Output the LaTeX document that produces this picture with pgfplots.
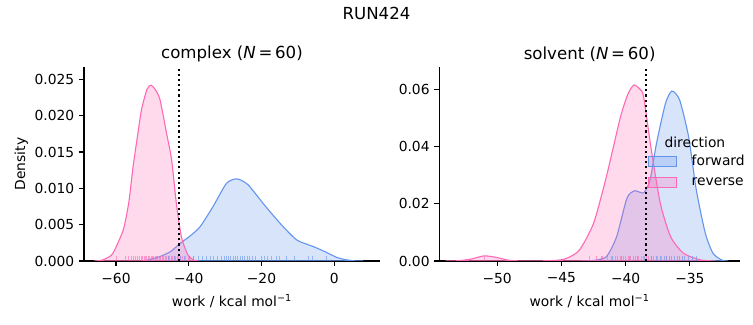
\documentclass[border=0pt]{standalone}
\usepackage{pgfplots}
\pgfplotsset{compat=1.18}
\usepackage{fontspec}
\setmainfont{DejaVu Sans}
\definecolor{fwd}{HTML}{6495ED}
\definecolor{rev}{HTML}{FF69B4}
\pgfplotsset{
  myax/.style={
    scale only axis,
    height=139.68bp,
    ymin=0,
    scaled y ticks=false, scaled x ticks=false,
    axis x line*=bottom, axis y line*=left,
    tick align=outside,
    major tick length=3.5bp,
    axis line style={line width=0.8bp, black},
    tick style={line width=0.8bp, black},
    tick label style={font=\fontsize{10}{12}\selectfont},
    xticklabel style={yshift=-1.5bp},
    label style={font=\fontsize{10}{12}\selectfont},
    xlabel style={yshift=-1.5bp},
    ylabel style={yshift=-2bp},
    title style={font=\fontsize{12}{14}\selectfont, yshift=-6bp},
    xlabel={work / kcal mol\textsuperscript{−1}},
    /pgf/number format/assume math mode=true,
  },
  kde/.style={color=#1, fill=#1, fill opacity=0.25, draw opacity=1, line width=0.8bp, smooth, tension=0.4},
  rug/.style={color=#1, ycomb, no marks, line width=0.7bp, opacity=0.6, forget plot},
  legend image code/.code={\draw[#1] (0bp,-3.6bp) rectangle (20bp,3.6bp);},
}
\begin{document}
\begin{tikzpicture}
\useasboundingbox (0,0) rectangle (542.16bp,234bp);
\node[font=\fontsize{12}{14}\selectfont] at (271.08bp,224.6bp) {RUN424};

% ---------- complex ----------
\begin{axis}[myax,
  at={(60.48bp,46.08bp)}, anchor=south west,
  width=213.12bp,
  xmin=-68.8, xmax=12.6, ymax=0.0267,
  xtick={-60,-40,-20,0}, xticklabels={−60,−40,−20,0},
  ytick={0,0.005,0.010,0.015,0.020,0.025},
  yticklabels={0.000,0.005,0.010,0.015,0.020,0.025},
  ylabel={Density},
  title={complex (\textit{N}\,=\,60)},
]
\addplot[kde=fwd] coordinates {(-53,0) (-51.6,0.0001) (-48,0.0006) (-45,0.0013) (-42.4,0.0024) (-39.5,0.0035) (-36.9,0.0047) (-33.3,0.0075) (-29.6,0.0107) (-26.7,0.0113) (-23.7,0.0105) (-19.5,0.0079) (-14.9,0.0052) (-10.3,0.0029) (-5.8,0.0020) (-2.6,0.0013) (0.7,0.0005) (3,0.0002) (5.5,0.00003) (8,0)} \closedcycle;
\addplot[kde=rev] coordinates {(-66,0) (-64,0.0001) (-62.5,0.0004) (-60.8,0.0011) (-58,0.0043) (-56.5,0.0080) (-55.3,0.0130) (-54,0.0175) (-53,0.0208) (-51.5,0.0236) (-50.4,0.0242) (-49.2,0.0236) (-47.9,0.0222) (-46.1,0.0176) (-44.7,0.0139) (-43.4,0.0079) (-42,0.0033) (-40.2,0.0008) (-38.5,0.0001) (-37,0)} \closedcycle;
\addplot[rug=rev] table[y expr=0.00067] {
x
-59.8
-57.4
-56.6
-55.8
-55.3
-54.7
-54.1
-53.6
-53.1
-52.7
-52.3
-51.9
-51.5
-51.1
-50.7
-50.3
-50.0
-49.6
-49.2
-48.9
-48.5
-48.1
-47.7
-47.3
-46.9
-46.5
-46.1
-45.7
-45.2
-44.8
-44.4
-44.0
-43.6
-43.2
-42.8
-42.3
-41.6
-40.9
-40.1
-38.8
};
\addplot[rug=fwd] table[y expr=0.00067] {
x
-45.6
-43.9
-42.4
-41.2
-39.8
-38.6
-37.4
-36.3
-35.0
-34.1
-33.2
-32.0
-31.1
-30.2
-29.6
-29.0
-28.4
-27.8
-27.1
-26.5
-25.9
-25.3
-24.6
-23.9
-23.2
-22.6
-21.7
-20.1
-19.2
-18.3
-17.2
-16.0
-15.1
-13.0
-10.8
-7.2
-6.1
-2.1
};
\addplot[black, line width=1.5bp, dash pattern=on 1.5bp off 2.2bp, forget plot] coordinates {(-42.7,0) (-42.7,0.0267)};
\end{axis}

% ---------- solvent ----------
\begin{axis}[myax,
  at={(316.3bp,46.08bp)}, anchor=south west,
  width=216.5bp,
  xmin=-54.5, xmax=-31.1, ymax=0.0677,
  xtick={-50,-45,-40,-35}, xticklabels={−50,−45,−40,−35},
  ytick={0,0.02,0.04,0.06},
  yticklabels={0.00,0.02,0.04,0.06},
  title={solvent (\textit{N}\,=\,60)},
  legend style={at={(0.68,0.575)}, anchor=north west, draw=none, fill=none,
    font=\fontsize{10}{12}\selectfont, row sep=3bp},
  legend cell align=left,
]
\addplot[kde=fwd] coordinates {(-43.5,0) (-42.5,0.0002) (-41.5,0.0015) (-40.7,0.0085) (-39.9,0.0219) (-39.3,0.0245) (-38.6,0.0238) (-38.1,0.0283) (-37.6,0.0410) (-36.9,0.0550) (-36.4,0.0593) (-35.8,0.0562) (-35.1,0.0434) (-34.5,0.0248) (-33.8,0.0097) (-33.2,0.0027) (-32.5,0.0003) (-32,0)} \closedcycle;
\addlegendentry{\hspace{8.5bp}forward}
\addplot[kde=rev] coordinates {(-54,0) (-53,0.0001) (-52,0.0007) (-51,0.0018) (-50,0.0012) (-49,0.0002) (-47.5,0) (-45.5,0.0002) (-44.6,0.0009) (-43.6,0.0038) (-42.5,0.0131) (-41.5,0.0294) (-40.4,0.0503) (-39.8,0.0585) (-39.35,0.0614) (-38.9,0.0600) (-38.6,0.0573) (-38.0,0.0387) (-37.3,0.0201) (-36.5,0.0085) (-35.5,0.0027) (-34.2,0.0004) (-33,0)} \closedcycle;
\addlegendentry{\hspace{8.5bp}reverse}
\addplot[rug=rev] table[y expr=0.0017] {
x
-51.0
-42.8
-42.3
-41.8
-41.4
-41.1
-40.8
-40.6
-40.4
-40.2
-40.0
-39.8
-39.6
-39.4
-39.2
-39.0
-38.8
-38.6
-38.4
-38.2
-38.0
-37.8
-37.5
-37.2
-36.8
};
\addplot[rug=fwd] table[y expr=0.0017] {
x
-41.9
-41.0
-40.3
-39.7
-39.1
-38.5
-38.0
-37.6
-37.3
-37.0
-36.8
-36.6
-36.4
-36.2
-36.0
-35.8
-35.6
-35.4
-35.1
-34.8
-34.5
};
\addplot[black, line width=1.5bp, dash pattern=on 1.5bp off 2.2bp, forget plot] coordinates {(-38.44,0) (-38.44,0.0677)};
\node[font=\fontsize{10}{12}\selectfont] at (rel axis cs:0.85,0.613) {direction};
\end{axis}
\end{tikzpicture}
\end{document}
